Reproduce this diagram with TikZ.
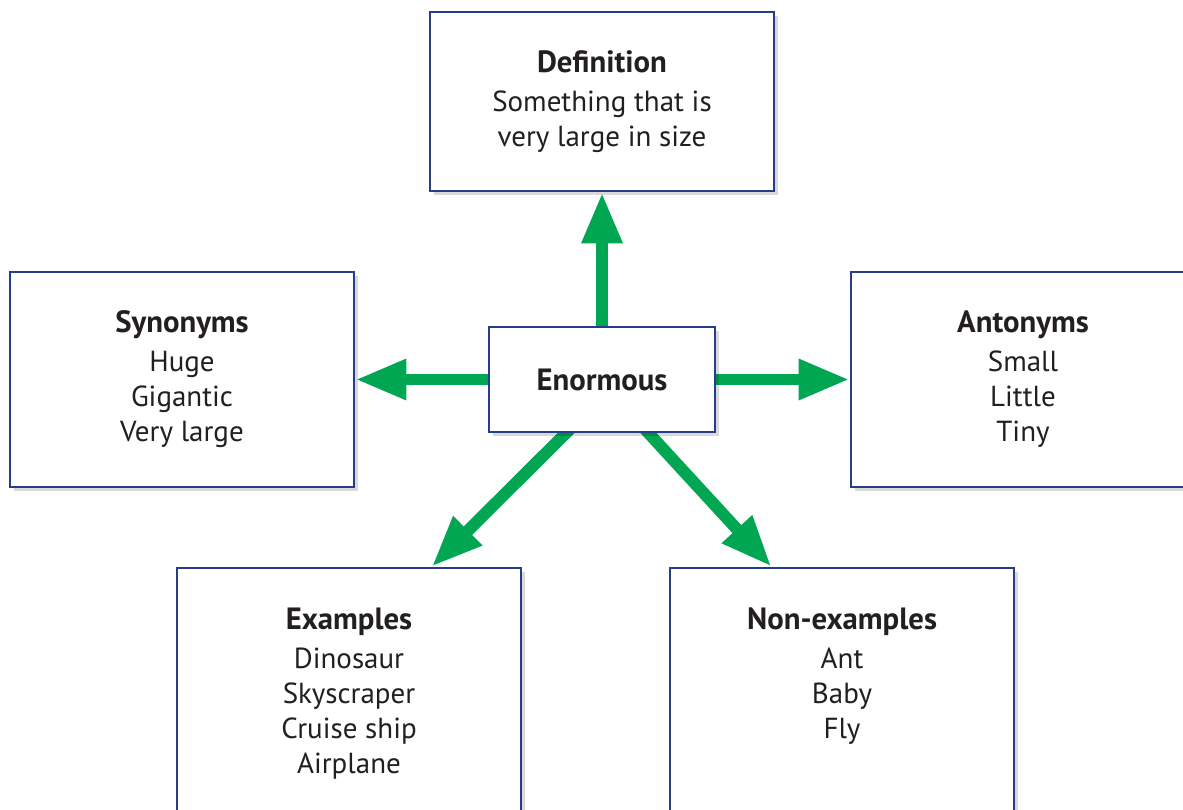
\documentclass[tikz,border=0pt]{standalone}
\usepackage{fontspec}
\setmainfont{PT Sans}
\usetikzlibrary{arrows.meta,shadows}
\definecolor{mapgreen}{RGB}{0,166,81}
\definecolor{mapblue}{RGB}{38,62,138}
\definecolor{maptext}{RGB}{35,31,32}
\pgfdeclarelayer{background}
\pgfsetlayers{background,main}
\newcommand{\boxhead}[1]{{\fontsize{17.5}{20}\selectfont\bfseries #1}}
\tikzset{
  wordbox/.style={draw=mapblue, line width=1.6pt, fill=white, align=center,
    text=maptext, font=\fontsize{16.5}{20}\selectfont, inner sep=0pt,
    minimum width=6.88cm,
    drop shadow={shadow xshift=2.5pt, shadow yshift=-2.5pt, fill=black, opacity=.15}},
  maparrow/.style={draw=mapgreen, line width=6.8pt, shorten <=-6pt,
    -{Triangle[length=1.02cm,width=0.76cm]}}
}
\begin{document}
\begin{tikzpicture}[x=0.02cm,y=-0.02cm]
        \useasboundingbox (0,0) rectangle (1183,809);
        % boxes
        \node[wordbox, minimum height=3.58cm] (definition) at (602,101.5)
          {\boxhead{Definition}\\[2pt]Something that is\\very large in size};
        \node[wordbox, minimum height=4.3cm] (synonyms) at (182,379.5)
          {\boxhead{Synonyms}\\[2pt]Huge\\Gigantic\\Very large};
        \node[wordbox, minimum width=4.52cm, minimum height=2.1cm] (enormous) at (602,379.5)
          {\boxhead{Enormous}};
        \node[wordbox, minimum height=4.3cm] (antonyms) at (1023,379.5)
          {\boxhead{Antonyms}\\[2pt]Small\\Little\\Tiny};
        \node[wordbox, minimum height=5.04cm] (examples) at (349,694)
          {\boxhead{Examples}\\[2pt]Dinosaur\\Skyscraper\\Cruise ship\\Airplane};
        \node[wordbox, minimum height=5.04cm] (nonexamples) at (842,694)
          {\boxhead{Non-examples}\\[2pt]Ant\\Baby\\Fly\\\phantom{Airplane}};
        % arrows
        \begin{pgfonlayer}{background}
        \draw[maparrow] (enormous.north) -- (definition.south);
        \draw[maparrow] (enormous.west) -- (synonyms.east);
        \draw[maparrow] (enormous.east) -- (antonyms.west);
        \draw[maparrow] (enormous.236) -- (examples.57);
        \draw[maparrow] (enormous.311) -- (nonexamples.119);
        \end{pgfonlayer}
      \end{tikzpicture}
\end{document}
